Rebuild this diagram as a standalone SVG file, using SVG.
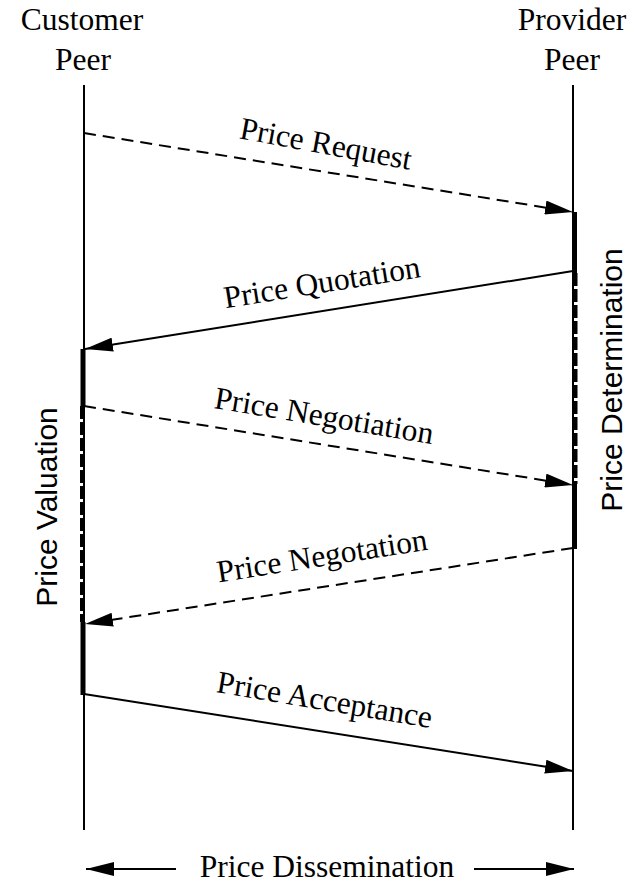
<svg xmlns="http://www.w3.org/2000/svg" width="640" height="885" viewBox="0 0 640 885">
<style>
.serif{font-family:"Liberation Serif","Times New Roman",serif;font-size:31.5px;fill:#000}
.sans{font-family:"Liberation Sans",Arial,sans-serif;font-size:30px;fill:#000}
.life{stroke:#000;stroke-width:2;fill:none}
.msg{stroke:#000;stroke-width:2;fill:none}
.dash{stroke-dasharray:12 7}
.bar{stroke:#000;stroke-width:5;fill:none}
.bardash{stroke:#000;stroke-width:5;fill:none;stroke-dasharray:13 3}
</style>
<defs>
<marker id="ah" viewBox="0 0 28 14" refX="28" refY="7" markerWidth="28" markerHeight="14" markerUnits="userSpaceOnUse" orient="auto">
<path d="M0,0 L28,7 L0,14 Z" fill="#000"/>
</marker>
</defs>
<g id="customer">
<text class="serif" x="82" y="30" text-anchor="middle">Customer</text>
<text class="serif" x="83" y="70" text-anchor="middle">Peer</text>
<line class="life" x1="84" y1="85" x2="84" y2="830"/>
<line class="bar" x1="83" y1="349" x2="83" y2="406"/>
<line class="bardash" x1="82.5" y1="406" x2="82.5" y2="622"/>
<line class="bar" x1="83" y1="622" x2="83" y2="695"/>
<text class="sans" transform="translate(57,507) rotate(-90)" text-anchor="middle">Price Valuation</text>
</g>
<g id="provider">
<text class="serif" x="572" y="30" text-anchor="middle">Provider</text>
<text class="serif" x="572" y="70" text-anchor="middle">Peer</text>
<line class="life" x1="573" y1="85" x2="573" y2="830"/>
<line class="bar" x1="574.5" y1="212" x2="574.5" y2="273"/>
<line class="bardash" x1="575" y1="273" x2="575" y2="484"/>
<line class="bar" x1="574.5" y1="484" x2="574.5" y2="549"/>
<text class="sans" transform="translate(622,380) rotate(-90)" text-anchor="middle">Price Determination</text>
</g>
<g id="connectors">
<line class="msg dash" x1="84" y1="133" x2="573" y2="212" marker-end="url(#ah)"/>
<line class="msg" x1="573" y1="271" x2="85" y2="349" marker-end="url(#ah)"/>
<line class="msg dash" x1="84" y1="406" x2="573" y2="485" marker-end="url(#ah)"/>
<line class="msg dash" x1="573" y1="548" x2="85" y2="624" marker-end="url(#ah)"/>
<line class="msg" x1="84" y1="694" x2="573" y2="771" marker-end="url(#ah)"/>
<line class="msg" x1="176" y1="869" x2="86" y2="869" marker-end="url(#ah)"/>
<line class="msg" x1="474" y1="869" x2="574" y2="869" marker-end="url(#ah)"/>
</g>
<g id="labels">
<text class="serif" transform="translate(324,154) rotate(10.5)" text-anchor="middle">Price Request</text>
<text class="serif" transform="translate(323.5,292.6) rotate(-9.1)" text-anchor="middle">Price Quotation</text>
<text class="serif" transform="translate(322.5,426) rotate(9.4)" text-anchor="middle">Price Negotiation</text>
<text class="serif" transform="translate(323.5,566) rotate(-8.9)" text-anchor="middle">Price Negotation</text>
<text class="serif" transform="translate(323,710) rotate(9.5)" text-anchor="middle">Price Acceptance</text>
<text class="serif" x="327" y="877" text-anchor="middle">Price Dissemination</text>
</g>
</svg>
